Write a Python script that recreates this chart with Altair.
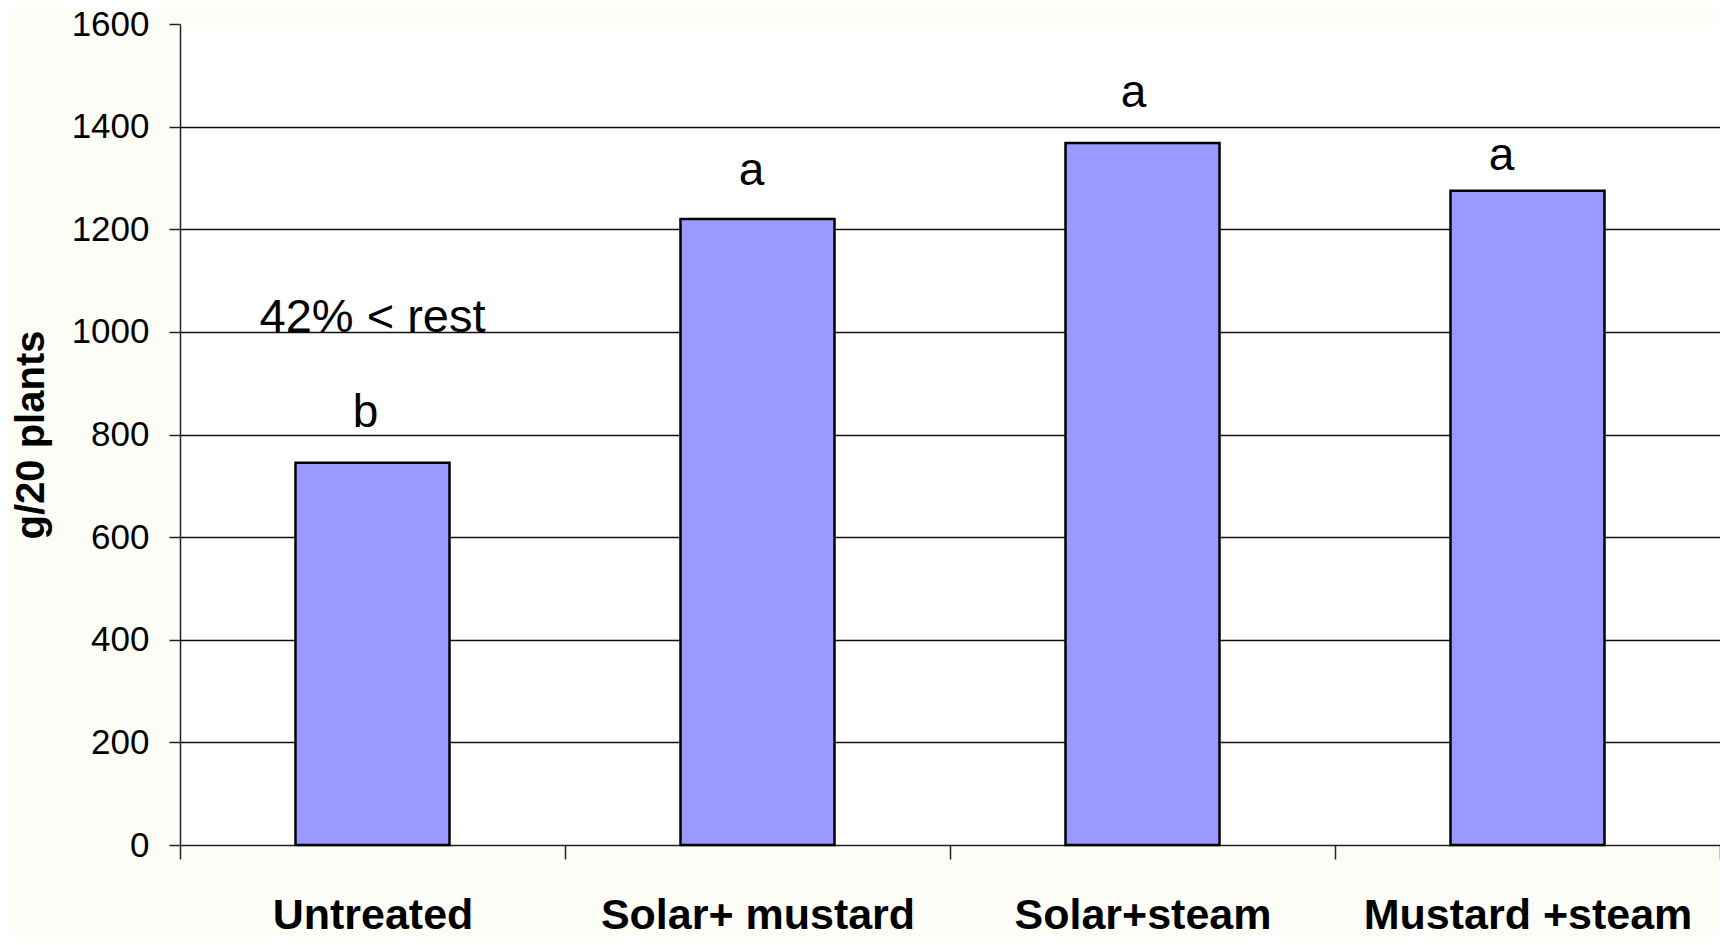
import altair as alt
import pandas as pd

# ---- data ----
categories = ["Untreated", "Solar+ mustard", "Solar+steam", "Mustard +steam"]
values = [745, 1220, 1368, 1275]
letters = ["b", "a", "a", "a"]
letter_y = [815, 1286, 1438, 1316]          # baseline of the significance letters (data units)
note_text = "42% < rest"
note_y = 1000                                # baseline of the note, above "Untreated"
y_ticks = [0, 200, 400, 600, 800, 1000, 1200, 1400, 1600]

# ---- styles ----
W, H = 1540, 821
FONT = "Liberation Sans"
letter_dx = [-7, -6, -9, -26]
step_px = W / len(categories)

idx = list(range(len(categories)))
bars_df = pd.DataFrame({"cat": categories, "i": idx, "value": values})
lab_df = pd.DataFrame({"cat": categories, "i": idx, "label": letters, "ly": letter_y})
note_df = pd.DataFrame({"i": [0], "label": [note_text], "ly": [note_y]})

label_expr = "[" + ",".join("'" + c + "'" for c in categories) + ",''][datum.value]"

xscale = alt.Scale(domain=[0, len(categories)], nice=False, zero=False)
yscale = alt.Scale(domain=[0, 1600], nice=False)

x_axis = alt.Axis(
    values=list(range(len(categories) + 1)),
    labelExpr=label_expr,
    labelOffset=step_px / 2,
    labelFlush=False,
    labelOverlap=False,
    labelBound=False,
    labelLimit=1000,
    grid=False,
    title=None,
    tickSize=14,
    tickColor="#222222",
    tickWidth=1.5,
    domainColor="#222222",
    domainWidth=1.5,
    labelFont=FONT,
    labelFontSize=43,
    labelFontWeight="bold",
    labelColor="black",
    labelPadding=35,
)

y_axis = alt.Axis(
    values=y_ticks,
    format="d",
    grid=True,
    gridColor="#111111",
    gridWidth=1.5,
    gridOpacity=alt.condition("datum.value == 1600 || datum.value == 0", alt.value(0), alt.value(1)),
    tickSize=11,
    tickColor="#222222",
    tickWidth=1.5,
    domainColor="#222222",
    domainWidth=1.5,
    labelFont=FONT,
    labelFontSize=35,
    labelColor="black",
    labelPadding=20,
    title="g/20 plants",
    titleFont=FONT,
    titleFontSize=40,
    titleFontWeight="bold",
    titleColor="black",
    titlePadding=20,
)

base = alt.Chart(bars_df)

bars = base.transform_calculate(
    x0="datum.i + 0.3", x1="datum.i + 0.7"
).mark_bar(fill="#9999FF", stroke="black", strokeWidth=2.5).encode(
    x=alt.X("x0:Q", scale=xscale, axis=x_axis),
    x2="x1:Q",
    y=alt.Y("value:Q", scale=yscale, axis=y_axis),
    y2=alt.datum(0),
)

layers = [bars]
for k in idx:
    t = alt.Chart(lab_df.iloc[[k]]).transform_calculate(
        xc="datum.i + 0.5"
    ).mark_text(
        font=FONT, fontSize=46, color="black", baseline="alphabetic", align="center", dx=letter_dx[k]
    ).encode(
        x=alt.X("xc:Q", scale=xscale),
        y=alt.Y("ly:Q", scale=yscale),
        text="label:N",
    )
    layers.append(t)

note = alt.Chart(note_df).transform_calculate(
    xc="datum.i + 0.5"
).mark_text(
    font=FONT, fontSize=47, color="black", baseline="alphabetic", align="center"
).encode(
    x=alt.X("xc:Q", scale=xscale),
    y=alt.Y("ly:Q", scale=yscale),
    text="label:N",
)
layers.append(note)

chart = alt.layer(*layers).properties(
    width=W,
    height=H,
    autosize=alt.AutoSizeParams(type="none"),
    padding={"left": 172, "top": 16, "right": 0, "bottom": 92},
    background="#fdfdf7",
).configure_view(fill="white", stroke=None)

chart.save("out.html", embed_options={"renderer": "svg", "actions": False})
